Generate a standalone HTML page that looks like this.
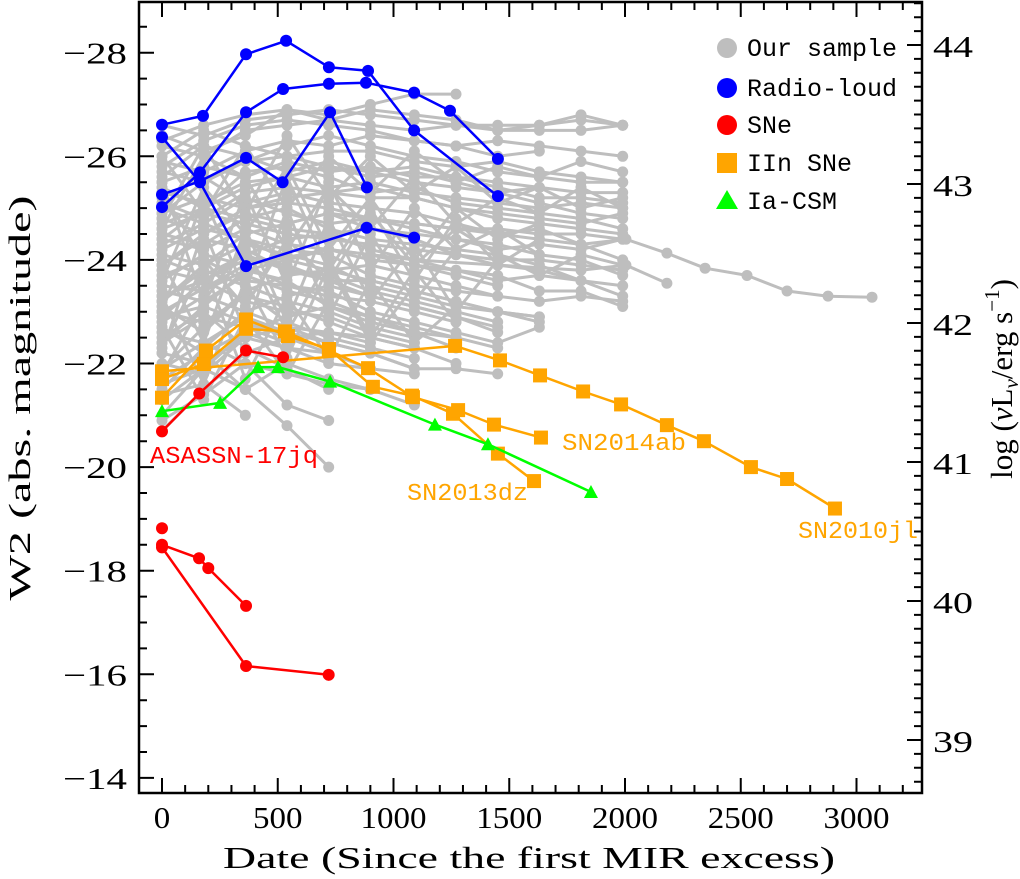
<!DOCTYPE html>
<html><head><meta charset="utf-8"><style>
html,body{margin:0;padding:0;background:#fff}
svg{display:block}
.tk{font-family:"Liberation Serif",serif;font-size:31px;fill:#000}
.lg{font-family:"Liberation Mono",monospace;font-size:25px;fill:#000}
.an{font-family:"Liberation Mono",monospace;font-size:24px}
</style></head><body>
<svg id="chart" width="1020" height="879" xmlns="http://www.w3.org/2000/svg">
<g id="gray"></g>
<g id="colored"></g>
<g id="axes"></g>
<g id="legend">
 <circle cx="727" cy="48" r="10" fill="#bebebe"/>
 <text class="lg" x="747" y="56">Our sample</text>
 <circle cx="727" cy="88" r="10" fill="#0000ff"/>
 <text class="lg" x="747" y="96">Radio-loud</text>
 <circle cx="727" cy="125" r="10" fill="#ff0000"/>
 <text class="lg" x="747" y="133">SNe</text>
 <rect x="717" y="153" width="20" height="20" fill="#ffa500"/>
 <text class="lg" x="747" y="171">IIn SNe</text>
 <polygon points="727,190 738,209 716,209" fill="#00ff00"/>
 <text class="lg" x="747" y="209">Ia-CSM</text>
</g>
<text class="an" x="150" y="463" fill="#ff0000" textLength="168" lengthAdjust="spacingAndGlyphs">ASASSN-17jq</text>
<text class="an" x="562" y="450" fill="#ffa500" textLength="124" lengthAdjust="spacingAndGlyphs">SN2014ab</text>
<text class="an" x="407" y="500" fill="#ffa500" textLength="121" lengthAdjust="spacingAndGlyphs">SN2013dz</text>
<text class="an" x="798" y="538" fill="#ffa500" textLength="120" lengthAdjust="spacingAndGlyphs">SN2010jl</text>
<text class="tk" x="529" y="868" text-anchor="middle" textLength="612" lengthAdjust="spacingAndGlyphs">Date (Since the first MIR excess)</text>
<text class="tk" transform="translate(30,398) rotate(-90)" text-anchor="middle" textLength="405" lengthAdjust="spacingAndGlyphs">W2 (abs. magnitude)</text>
<text class="tk" transform="translate(1012,379) rotate(-90)" text-anchor="middle" font-size="33">log (<tspan font-style="italic">ν</tspan>L<tspan font-size="21" dy="6"><tspan font-style="italic">ν</tspan></tspan><tspan dy="-6">/erg s</tspan><tspan font-size="21" dy="-13">−1</tspan><tspan dy="13">)</tspan></text>
</svg>
<script>
// ---- data ----
const grayEpochs=[0,180,360,540,720,900,1090,1270,1450,1630,1810,1990];
const graySeries=[
[-26.6,-26.4,-26.7,-26.8,-26.9,-26.8,-26.7,-26.6,-26.6,-26.6,-26.7,-26.6],
[-26.4,-26.1,-26.4,-26.9,-26.8,-27.0,-27.2,-27.2],
[-26.2,-26.0,-26.5,-26.6,-26.7,-26.6,-26.5,-26.6,-26.5,-26.5,-26.5,-26.6],
[-25.9,-25.7,-26.1,-26.3,-26.2,-26.4,-26.3,-26.2,-26.3,-26.2,-26.1,-26.0],
[-25.7,-25.5,-25.9,-26.0,-26.1,-26.1,-25.9,-25.8,-25.9,-25.7,-25.6,-25.5],
[-25.5,-25.8,-25.6,-25.9,-25.7,-25.8,-25.6,-25.6,-25.5,-25.4,-25.3,-25.3],
[-25.3,-25.1,-25.5,-25.6,-25.4,-25.5,-25.3,-25.2,-25.1,-25.0,-25.1,-25.0],
[-25.1,-24.8,-25.3,-25.4,-25.3,-25.2,-25.2,-25.0,-24.9,-24.8,-24.7,-24.9],
[-24.9,-25.2,-25.0,-25.1,-25.0,-24.8,-24.7,-24.6,-24.6,-24.5,-24.5,-24.4],
[-24.8,-24.5,-24.9,-24.7,-24.9,-24.6,-24.5,-24.4,-24.2,-24.3,-24.2,-24.4],
[-24.6,-24.9,-24.7,-24.5,-24.4,-24.3,-24.2,-24.1,-24.0,-24.0,-23.9,-23.8],
[-24.4,-24.2,-24.6,-24.3,-24.2,-24.0,-23.9,-23.8,-23.6,-23.7,-23.6,-23.5],
[-24.3,-24.7,-24.4,-24.2,-24.1,-23.7,-23.5,-23.4,-23.3,-23.2,-23.3,-23.2],
[-24.1,-23.9,-24.3,-24.1,-23.9,-23.5,-23.3,-23.1,-23.0,-22.9],
[-23.9,-24.4,-24.2,-23.8,-23.7,-23.4,-23.2,-23.0,-22.8],
[-23.8,-23.6,-24.0,-23.9,-23.6,-23.3,-23.1,-22.9,-22.6],
[-23.6,-24.1,-23.9,-23.5,-23.4,-23.0,-22.8,-22.6,-22.4,-22.7],
[-23.4,-23.2,-23.7,-23.4,-23.2,-22.9,-22.6,-22.3],
[-23.2,-23.8,-23.5,-23.2,-23.0,-22.7,-22.5],
[-23.0,-22.8,-23.3,-23.1,-22.8,-22.5,-22.3,-22.0],
[-22.8,-23.3,-23.0,-22.7,-22.6,-22.4],
[-22.6,-22.4,-22.9,-22.6,-22.4,-22.2,-21.9],
[-22.4,-22.9,-22.7,-22.4],
[-22.2,-22.0,-22.5,-22.3,-22.2,-21.9,-21.8],
[-21.9,-22.4,-22.0,-21.8,-21.6,-21.5],
[-21.6,-21.9,-21.5],
[-21.3,-21.9,-21.5,-20.8,-20.0],
[-26.0,-26.5,-26.2,-26.0,-25.8,-25.6,-25.7,-25.5,-25.3,-25.4],
[-25.8,-26.3,-26.6,-26.7,-26.6,-26.5,-26.3,-26.2,-26.0,-26.1],
[-25.6,-26.2,-26.0,-25.7,-25.9,-25.7,-25.8,-25.6,-25.4,-25.2,-25.2,-25.1],
[-25.4,-25.0,-25.7,-25.8,-25.6,-25.3,-25.4,-25.1,-25.0,-24.9,-24.8,-24.6],
[-25.2,-25.6,-25.1,-25.3,-25.1,-25.0,-24.9,-24.7,-24.5,-24.6,-24.3,-24.0],
[-25.0,-24.7,-25.2,-24.9,-24.7,-24.8,-24.6,-24.4,-24.3,-24.1,-24.0,-23.7],
[-24.7,-25.0,-24.8,-25.0,-24.6,-24.4,-24.3,-24.2,-24.1,-23.9,-23.6,-23.3],
[-24.5,-24.3,-24.8,-24.6,-24.5,-24.2,-24.0,-23.8,-23.7,-23.4,-23.4,-23.1],
[-24.2,-24.6,-24.4,-24.0,-23.8,-23.9,-23.7,-23.5,-23.3],
[-24.0,-23.7,-24.1,-23.8,-23.6,-23.6,-23.4,-23.2,-23.0,-22.9],
[-23.7,-24.0,-23.6,-23.5,-23.3,-23.2,-23.0,-22.8],
[-23.5,-23.4,-23.8,-23.6,-23.1,-22.8,-22.6,-22.5,-22.3],
[-23.3,-23.6,-23.2,-23.0,-22.9,-22.6,-22.4],
[-23.1,-22.6,-23.4,-22.8,-22.5,-22.3,-22.1],
[-22.9,-23.1,-22.8,-22.5,-22.2],
[-22.7,-22.2,-22.6,-22.3,-22.0,-21.9],
[-22.5,-23.0,-22.3,-21.9,-21.5],
[-26.3,-26.6,-26.8,-26.9,-26.7,-26.9,-26.8,-26.7,-26.5,-26.6,-26.8,-26.6],
[-24.9,-25.5,-25.9,-26.2,-26.4,-26.2,-26.0,-25.9,-25.7,-25.6,-25.5,-25.5],
[-24.4,-25.0,-25.4,-25.6,-25.8,-25.7,-25.5,-25.4,-25.3,-25.1,-24.9,-24.8],
[-23.9,-24.5,-25.0,-25.2,-25.3,-25.4,-25.2,-25.0,-24.8,-24.7,-24.6,-24.5],
[-22.9,-23.6,-24.1,-24.4,-24.5,-24.6,-24.4,-24.1,-23.9,-23.8,-23.6],
[-22.4,-23.1,-23.8,-24.0,-24.2,-24.1,-23.9,-23.7,-23.5],
[-21.9,-22.7,-23.4,-23.7,-23.8,-23.6,-23.4,-23.2,-23.0,-22.8],
[-21.5,-22.3,-23.0,-23.3,-23.5,-23.3,-23.1,-22.9,-22.7],
[-21.0,-21.9,-22.6,-22.9,-23.1,-22.9,-22.7,-22.5],
[-20.7,-21.5,-22.2,-22.5,-22.6,-22.5,-22.3],
[-22.0,-21.8,-22.5,-22.7,-22.4,-22.2,-21.9,-21.9,-21.8],
[-21.7,-22.2,-21.5,-22.0,-21.7,-21.5,-21.2],
[-21.4,-21.6,-21.0],
[-23.0,-25.2,-23.4,-25.6,-23.8,-25.0,-23.6,-24.8,-23.9,-24.4],
[-24.0,-22.4,-24.6,-22.8,-24.8,-23.2,-24.3,-23.0,-24.0],
[-22.2,-24.6,-22.6,-25.0,-22.9,-24.5,-23.2,-24.2],
[-25.5,-23.2,-25.3,-23.5,-25.5,-23.8,-25.0,-24.2,-24.6,-24.1],
[-21.8,-23.2,-24.3,-22.6,-24.0,-22.5,-23.8,-22.8],
[-23.3,-21.6,-23.6,-22.1,-23.9,-22.4,-23.5],
[-24.8,-26.2,-24.9,-26.4,-25.2,-26.0,-25.3,-25.8,-25.1,-25.4,-25.0,-25.2],
[-22.7,-21.3,-22.9,-21.8,-23.2],
[-20.9,-21.4,-22.0,-21.2,-20.9],
[-25.3,-24.0,-23.1,-24.4,-23.6,-24.9,-23.9,-24.6,-24.1,-23.7,-24.1,-23.9],
[-24.6,-26.0,-25.6,-24.2,-25.4,-24.6,-25.6,-24.7,-25.2,-24.9,-25.4,-25.0],
[-23.6,-25.4,-24.5,-25.8,-24.2,-25.2,-24.0,-25.0,-24.4,-24.7],
[-22.3,-23.9,-21.7,-23.3,-22.1,-23.6,-22.4,-23.1],
[-26.0,-24.9,-26.2,-25.0,-26.0,-25.3,-26.1,-25.5,-25.8,-25.6,-25.9,-25.7]
];
const longDays=[0,180,360,540,720,900,1090,1270,1450,1630,1810,2004,2181,2346,2527,2700,2877,3067];
const longMags=[-23.2,-23.9,-24.5,-24.7,-24.9,-24.8,-24.7,-24.6,-24.5,-24.4,-24.3,-24.4,-24.13,-23.84,-23.7,-23.4,-23.3,-23.28];
const long2Days=[0,360,720,1090,1450,1810,2004,2181];
const long2Mags=[-23.0,-23.9,-24.2,-24.0,-23.9,-23.8,-23.9,-23.55];

const blue1Days=[0,177,363,536,721,890,1089,1451];
const blue1Mags=[-26.61,-26.78,-27.97,-28.23,-27.72,-27.65,-26.5,-25.23];
const blue2Days=[0,164,363,884,1089];
const blue2Mags=[-26.37,-25.5,-23.88,-24.62,-24.43];
const blue3Days=[0,164,363,523,721,881,1089,1244,1451];
const blue3Mags=[-25.02,-25.69,-26.85,-27.3,-27.4,-27.42,-27.23,-26.88,-25.95];
const blue4Days=[0,164,363,521,726,885];
const blue4Mags=[-25.26,-25.52,-25.97,-25.5,-26.85,-25.4];

const redADays=[0,161,363,523];
const redAMags=[-20.69,-21.42,-22.25,-22.12];
const redBDays=[0,160,200,363];
const redBMags=[-18.5,-18.24,-18.05,-17.32];
const redCDays=[0,363,720];
const redCMags=[-18.45,-16.16,-15.99];
const redDDays=[0];
const redDMags=[-18.82];

const snjlDays=[0,1266,1460,1633,1819,1983,2181,2341,2544,2700,2907];
const snjlMags=[-21.85,-22.34,-22.06,-21.77,-21.46,-21.21,-20.81,-20.5,-20.0,-19.77,-19.2];
const sndzDays=[0,190,363,544,721,911,1080,1257,1451,1607];
const sndzMags=[-21.34,-22.25,-22.85,-22.53,-22.28,-21.55,-21.38,-21.03,-20.26,-19.73];
const snabDays=[0,181,363,531,721,890,1084,1279,1434,1637];
const snabMags=[-21.7,-21.99,-22.67,-22.62,-22.25,-21.91,-21.35,-21.1,-20.82,-20.57];
const iaDays=[0,251,415,501,726,1179,1408,1853];
const iaMags=[-21.08,-21.24,-21.93,-21.93,-21.65,-20.82,-20.44,-19.52];

const xTicks=[0,500,1000,1500,2000,2500,3000];
const yTicks=[-28,-26,-24,-22,-20,-18,-16,-14];
const rTicks=[39,40,41,42,43,44];

// ---- scales ----
const L=139,R=922,T=2,B=793;
const X=d=>162+d*0.2315;
const Y=m=>52.7+(m+28)*51.8;
const YR=l=>45+(44-l)*139;
const NS='http://www.w3.org/2000/svg';
function mk(tag,parent,attrs){const e=document.createElementNS(NS,tag);for(const k in attrs)e.setAttribute(k,attrs[k]);parent.appendChild(e);return e;}

const gG=document.getElementById('gray');
function drawSeries(days,mags,color,marker,parent,name){
  const g=mk('g',parent,{});
  
  
  const gray=color==='#bebebe';
  const pts=days.map((d,i)=>X(d).toFixed(1)+','+Y(mags[i]).toFixed(1)).join(' ');
  if(days.length>1){const pl=mk('polyline',g,{points:pts,fill:'none',stroke:color,'stroke-width':gray?3:2.5,'stroke-linejoin':'round'});
  
  }
  days.forEach((d,i)=>{
    const x=X(d),y=Y(mags[i]);let m;
    if(marker==='c'){m=mk('circle',g,{cx:x,cy:y,r:gray?5.5:6,fill:color});}
    else if(marker==='s'){m=mk('rect',g,{x:x-7,y:y-7,width:14,height:14,fill:color});}
    else {m=mk('polygon',g,{points:`${x},${y-7} ${x+7},${y+6} ${x-7},${y+6}`,fill:color});}
    
    
  });
}
graySeries.forEach((s,i)=>drawSeries(grayEpochs.slice(0,s.length),s,'#bebebe','c',gG,'sample-series-'+i));
drawSeries(longDays,longMags,'#bebebe','c',gG,'sample-series-long');
drawSeries(long2Days,long2Mags,'#bebebe','c',gG,'sample-series-long2');

const cG=document.getElementById('colored');
drawSeries(snjlDays,snjlMags,'#ffa500','s',cG,'sn2010jl');
drawSeries(sndzDays,sndzMags,'#ffa500','s',cG,'sn2013dz');
drawSeries(snabDays,snabMags,'#ffa500','s',cG,'sn2014ab');
drawSeries(iaDays,iaMags,'#00ff00','t',cG,'ia-csm');
drawSeries(redADays,redAMags,'#ff0000','c',cG,'asassn-17jq');
drawSeries(redBDays,redBMags,'#ff0000','c',cG,'sne-a');
drawSeries(redCDays,redCMags,'#ff0000','c',cG,'sne-b');
drawSeries(redDDays,redDMags,'#ff0000','c',cG,'sne-c');
drawSeries(blue1Days,blue1Mags,'#0000ff','c',cG,'radio-loud-1');
drawSeries(blue2Days,blue2Mags,'#0000ff','c',cG,'radio-loud-2');
drawSeries(blue3Days,blue3Mags,'#0000ff','c',cG,'radio-loud-3');
drawSeries(blue4Days,blue4Mags,'#0000ff','c',cG,'radio-loud-4');

// ---- axes ----
const aG=document.getElementById('axes');
const fr=mk('rect',aG,{x:L,y:T,width:R-L,height:B-T,fill:'none',stroke:'#000','stroke-width':2.5});


let tp='';
for(let d=-100;d<=3250;d+=100){const x=X(d);if(x<=L+1||x>=R-1)continue;const len=(d%500===0)?15:8;tp+=`M${x},${B}v${-len}M${x},${T}v${len}`;}
for(let m=-28.5;m<=-13.5;m+=0.5){const y=Y(m);if(y<=T+1||y>=B-1)continue;const len=(m%2===0)?15:8;tp+=`M${L},${y}h${len}`;}
for(let l=38.7;l<=44.35;l+=0.1){const y=YR(l);if(y<=T+1||y>=B-1)continue;const len=Math.abs(l-Math.round(l))<0.01?15:8;tp+=`M${R},${y}h${-len}`;}
const tk=mk('path',aG,{d:tp,stroke:'#000','stroke-width':2,fill:'none'});


xTicks.forEach(v=>{const t=mk('text',aG,{x:X(v),y:828,'text-anchor':'middle',class:'tk',lengthAdjust:'spacingAndGlyphs'});t.textContent=String(v);
 t.setAttribute('textLength',String(v).length*16.5);
 
 });
yTicks.forEach(v=>{const t=mk('text',aG,{x:127,y:Y(v)+11,'text-anchor':'end',class:'tk',textLength:64,lengthAdjust:'spacingAndGlyphs'});t.textContent='−'+Math.abs(v);
 
 });
rTicks.forEach(v=>{const t=mk('text',aG,{x:933,y:YR(v)+12,class:'tk',textLength:40,lengthAdjust:'spacingAndGlyphs','font-size':34});t.textContent=String(v);
 
 });
</script>
</body></html>
